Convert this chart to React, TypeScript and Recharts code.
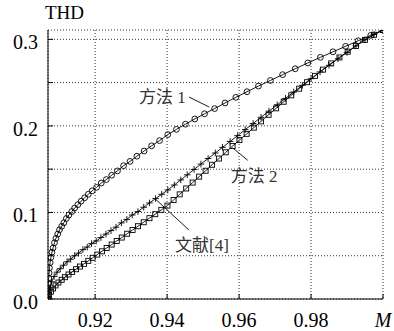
import React from 'react';
import { CartesianGrid, Line, LineChart, ReferenceDot, ReferenceLine, XAxis, YAxis } from 'recharts';

const FONT = "'Liberation Serif', 'Noto Sans CJK SC', serif";

// 方法 1 (circles)
const m1M = [0.9069, 0.9069, 0.9070, 0.9070, 0.9071, 0.9072, 0.9073, 0.9075, 0.9077, 0.9080, 0.9083, 0.9087, 0.9091, 0.9096, 0.9101, 0.9107, 0.9113, 0.9120, 0.9127, 0.9135, 0.9143, 0.9152, 0.9161, 0.9171, 0.9181, 0.9192, 0.9204, 0.9217, 0.9231, 0.9246, 0.9262, 0.9279, 0.9297, 0.9316, 0.9336, 0.9357, 0.9379, 0.9402, 0.9426, 0.9451, 0.9477, 0.9504, 0.9532, 0.9561, 0.9591, 0.9622, 0.9654, 0.9687, 0.9721, 0.9756, 0.9791, 0.9826, 0.9861, 0.9896, 0.9931, 0.9966, 1.0];
const m1THD = [0, 0.006, 0.012, 0.018, 0.024, 0.030, 0.036, 0.042, 0.048, 0.054, 0.059, 0.065, 0.070, 0.075, 0.080, 0.084, 0.088, 0.093, 0.097, 0.101, 0.105, 0.109, 0.113, 0.117, 0.121, 0.125, 0.129, 0.134, 0.138, 0.143, 0.148, 0.154, 0.159, 0.165, 0.171, 0.177, 0.183, 0.190, 0.196, 0.202, 0.208, 0.214, 0.220, 0.2265, 0.2330, 0.2395, 0.2460, 0.2525, 0.2592, 0.2660, 0.2727, 0.2792, 0.2856, 0.2919, 0.2984, 0.3046, 0.3108];

// 方法 2 (squares)
const m2M = [0.9069, 0.9072, 0.9077, 0.9083, 0.9090, 0.9098, 0.9107, 0.9116, 0.9126, 0.9136, 0.9147, 0.9158, 0.9169, 0.9181, 0.9193, 0.9206, 0.9219, 0.9232, 0.9246, 0.9260, 0.9274, 0.9289, 0.9304, 0.9319, 0.9335, 0.9351, 0.9367, 0.9384, 0.9401, 0.9418, 0.9435, 0.9453, 0.9471, 0.9489, 0.9507, 0.9525, 0.9544, 0.9563, 0.9582, 0.9601, 0.9621, 0.9641, 0.9661, 0.9682, 0.9703, 0.9724, 0.9745, 0.9767, 0.9789, 0.9811, 0.9833, 0.9856, 0.9879, 0.9902, 0.9925, 0.9950, 0.9975, 1.0];
const m2THD = [0, 0.0045, 0.0085, 0.0122, 0.0157, 0.0190, 0.0222, 0.0252, 0.0283, 0.0313, 0.0344, 0.0375, 0.0406, 0.0441, 0.0476, 0.0513, 0.0551, 0.0589, 0.0629, 0.0670, 0.0710, 0.0754, 0.0797, 0.0841, 0.0887, 0.0934, 0.0980, 0.1030, 0.1079, 0.1144, 0.1209, 0.1277, 0.1345, 0.1414, 0.1482, 0.1551, 0.1623, 0.1695, 0.1767, 0.1836, 0.1908, 0.1980, 0.2052, 0.2128, 0.2203, 0.2279, 0.2353, 0.2430, 0.2505, 0.2578, 0.2650, 0.2722, 0.2791, 0.2858, 0.2924, 0.2994, 0.3053, 0.3108];

// 文献[4] (crosses)
const refM = [0.9069, 0.9071, 0.9074, 0.9079, 0.9086, 0.9094, 0.9103, 0.9112, 0.9122, 0.9132, 0.9143, 0.9154, 0.9166, 0.9178, 0.9190, 0.9203, 0.9216, 0.9230, 0.9244, 0.9258, 0.9273, 0.9288, 0.9303, 0.9319, 0.9335, 0.9351, 0.9368, 0.9385, 0.9402, 0.9420, 0.9438, 0.9456, 0.9475, 0.9494, 0.9514, 0.9534, 0.9554, 0.9575, 0.9596, 0.9617, 0.9639, 0.9661, 0.9683, 0.9706, 0.9729, 0.9752, 0.9776, 0.9800, 0.9825, 0.9850, 0.9875, 0.9900, 0.9925, 0.9950, 0.9975, 1.0];
const refTHD = [0, 0.007, 0.013, 0.020, 0.026, 0.031, 0.035, 0.039, 0.043, 0.046, 0.050, 0.053, 0.057, 0.060, 0.064, 0.067, 0.071, 0.075, 0.079, 0.083, 0.088, 0.092, 0.097, 0.101, 0.106, 0.111, 0.116, 0.121, 0.126, 0.1317, 0.1376, 0.1435, 0.1497, 0.1559, 0.1623, 0.1687, 0.1752, 0.1820, 0.1888, 0.1957, 0.2028, 0.2099, 0.2170, 0.2244, 0.2318, 0.2392, 0.2469, 0.2546, 0.2624, 0.2700, 0.2775, 0.2850, 0.2925, 0.2995, 0.3055, 0.3108];

const xTicks = [0.92, 0.94, 0.96, 0.98, 1.0];
const xTickLabels = ['0.92', '0.94', '0.96', '0.98', 'M'];
const yTicks = [0, 0.05, 0.1, 0.15, 0.2, 0.25, 0.3];
const yTickLabels = ['0.0', '', '0.1', '', '0.2', '', '0.3'];

const noteText = ['方法 1', '方法 2', '文献[4]'];
const noteM = [0.9387, 0.9642, 0.9497];
const noteTHD = [0.233, 0.1413, 0.0623];
const leaderFrom = [[0.9461, 0.2333], [0.9582, 0.1747], [0.9366, 0.1161]];
const leaderTo = [[0.9517, 0.2218], [0.9624, 0.1603], [0.9461, 0.0796]];

const toPoints = (ms: number[], ys: number[]) => ms.map((m, i) => ({ m, thd: ys[i] }));
const m1Data = toPoints(m1M, m1THD);
const m2Data = toPoints(m2M, m2THD);
const refData = toPoints(refM, refTHD);

const CircleDot = (p: any) => (
  <circle key={`c${p.index}`} cx={p.cx} cy={p.cy} r={2.9} fill="none" stroke="#000" strokeWidth={0.9} />
);
const SquareDot = (p: any) => (
  <rect key={`s${p.index}`} x={p.cx - 2.5} y={p.cy - 2.5} width={5} height={5} fill="none" stroke="#000" strokeWidth={0.9} />
);
const PlusDot = (p: any) => (
  <path key={`p${p.index}`} d={`M${p.cx - 3.3},${p.cy}H${p.cx + 3.3}M${p.cx},${p.cy - 3.3}V${p.cy + 3.3}`} stroke="#000" strokeWidth={0.9} />
);

const XTick = (p: any) => {
  const label = xTickLabels[xTicks.indexOf(p.payload.value)];
  return (
    <text x={p.x} y={p.y} dy="0.71em" textAnchor="middle" fontFamily={FONT} fontSize={20}
      fontStyle={label === 'M' ? 'italic' : 'normal'} fill="#000">{label}</text>
  );
};

const YTick = (p: any) => {
  const label = yTickLabels[yTicks.indexOf(p.payload.value)];
  return (
    <text x={p.x} y={p.y} dy={10} textAnchor="end" fontFamily={FONT} fontSize={20} fill="#000">{label}</text>
  );
};

const App = () => (
  <div style={{ position: 'absolute', left: 0, top: 0, width: 394, height: 331, background: '#fff' }}>
    <div style={{ position: 'absolute', left: 45, top: 3, fontFamily: FONT, fontSize: 19, lineHeight: '20px', color: '#000' }}>THD</div>
    <LineChart width={394} height={331} margin={{ top: 30, right: 11, bottom: 0, left: 0 }}>
      <CartesianGrid stroke="#000" strokeWidth={0.8} strokeDasharray="1 2" />
      <XAxis type="number" dataKey="m" domain={[0.9069, 1]} ticks={xTicks} interval={0} allowDataOverflow
        height={32} tickSize={-5} tickMargin={19} tick={<XTick />} axisLine={{ stroke: '#000' }} tickLine={{ stroke: '#000' }} />
      <XAxis xAxisId="top" orientation="top" type="number" domain={[0.9069, 1]} ticks={xTicks} interval={0}
        height={0} tickSize={-5} tick={false} axisLine={{ stroke: '#000' }} tickLine={{ stroke: '#000' }} />
      <YAxis type="number" domain={[0, 0.3108]} ticks={yTicks} interval={0} allowDataOverflow
        width={48} tickSize={-5} tickMargin={15} tick={<YTick />} axisLine={{ stroke: '#000' }} tickLine={{ stroke: '#000' }} />
      <YAxis yAxisId="r" orientation="right" type="number" domain={[0, 0.3108]} ticks={yTicks} interval={0}
        width={0} tickSize={-5} tick={false} axisLine={{ stroke: '#000' }} tickLine={{ stroke: '#000' }} />
      <Line data={m1Data} dataKey="thd" type="linear" stroke="#000" strokeWidth={0.9} dot={CircleDot} isAnimationActive={false} />
      <Line data={m2Data} dataKey="thd" type="linear" stroke="#000" strokeWidth={0.9} dot={SquareDot} isAnimationActive={false} />
      <Line data={refData} dataKey="thd" type="linear" stroke="#000" strokeWidth={0.9} dot={PlusDot} isAnimationActive={false} />
      {leaderFrom.map((f, i) => (
        <ReferenceLine key={`l${i}`} segment={[{ x: f[0], y: f[1] }, { x: leaderTo[i][0], y: leaderTo[i][1] }]}
          stroke="#000" strokeWidth={0.9} ifOverflow="visible" />
      ))}
      {noteText.map((t, i) => (
        <ReferenceDot key={`n${i}`} x={noteM[i]} y={noteTHD[i]} r={0} ifOverflow="visible"
          shape={(p: any) => (
            <text x={p.cx} y={p.cy} textAnchor="middle" dominantBaseline="central" fontFamily={FONT} fontSize={17} fill="#333">{t}</text>
          )} />
      ))}
    </LineChart>
  </div>
);

export default App;
